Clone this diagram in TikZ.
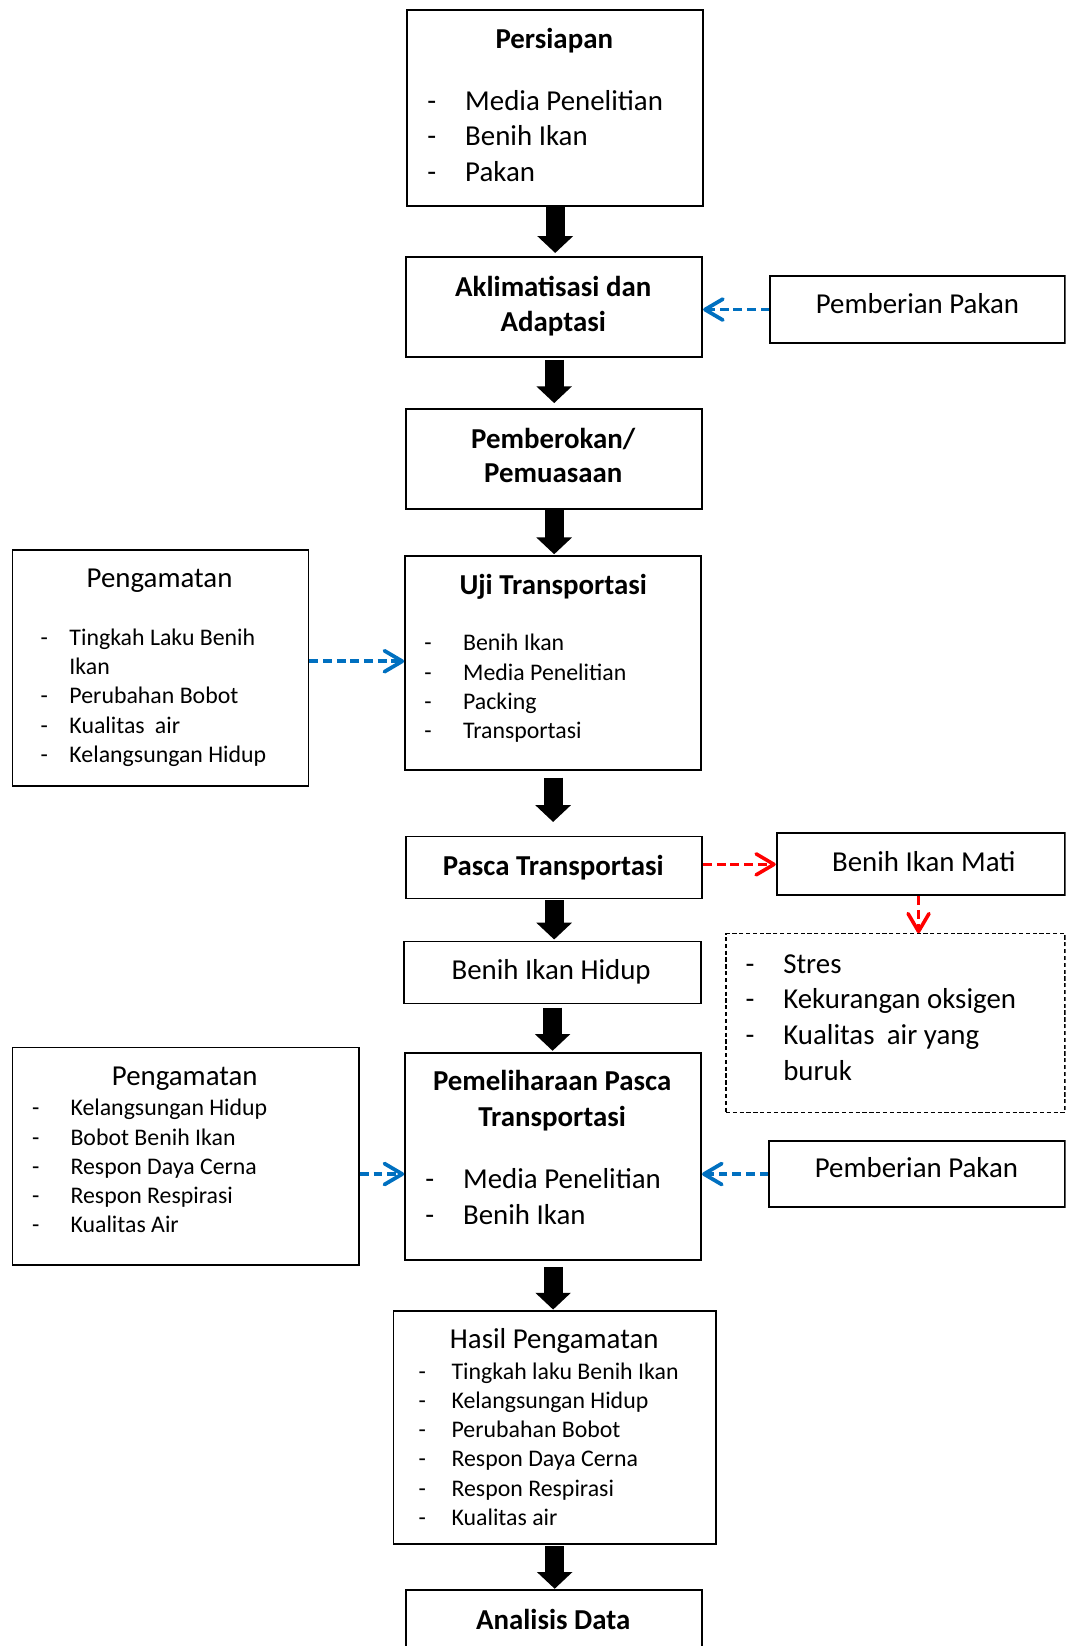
\documentclass[tikz,border=0pt]{standalone}
\usepackage{fontspec}
\setmainfont{Carlito}
\usetikzlibrary{arrows.meta,calc}
\definecolor{ablue}{RGB}{0,112,192}
\definecolor{ared}{RGB}{255,0,0}
\newcommand\dlist[2]{\begin{tabular}[t]{@{}p{#1pt}@{}l@{}}#2\end{tabular}}
\tikzset{
  box/.style={draw=black, line width=1.8pt, rectangle, inner sep=0pt, anchor=north west},
  dbox/.style={draw=black, line width=1.2pt, dash pattern=on 4pt off 2.5pt, rectangle, inner sep=0pt, anchor=north west},
  tL/.style={font=\fontsize{27.5}{33.8}\selectfont, inner sep=0pt, anchor=base},
  tLb/.style={font=\fontsize{27.5}{33.8}\selectfont\bfseries, inner sep=0pt, anchor=base},
  lL/.style={font=\fontsize{27.5}{34}\selectfont, inner sep=0pt, anchor=base west},
  lS/.style={font=\fontsize{22.7}{27.8}\selectfont, inner sep=0pt, anchor=base west},
  blk/.style={line width=18pt, -{Triangle[width=33pt,length=16pt]}},
  bdash/.style={ablue, line width=3.6pt, dash pattern=on 8.5pt off 4.5pt, -{Straight Barb[length=17pt,width=20pt,round]}},
  rdash/.style={ared, line width=3.4pt, dash pattern=on 8.5pt off 4.5pt, -{Straight Barb[length=17pt,width=20pt,round]}}
}
\begin{document}
\begin{tikzpicture}[x=1pt,y=-1pt]
\useasboundingbox (0,0) rectangle (1015,1568);
\clip (0,0) rectangle (1015,1568);

% boxes
\node[box, minimum width=282pt, minimum height=186pt] (persiapan) at (387,9) {};
\node[box, minimum width=282pt, minimum height=95pt] (aklim) at (386,244) {};
\node[box, minimum width=281pt, minimum height=64pt] (pakan1) at (733,262) {};
\node[box, minimum width=282pt, minimum height=95pt] (pemberokan) at (386,389) {};
\node[box, minimum width=282pt, minimum height=204pt] (uji) at (385,529) {};
\node[box, minimum width=282pt, minimum height=225pt] (peng1) at (11,523) {};
\node[box, minimum width=282pt, minimum height=59pt] (pasca) at (386,796) {};
\node[box, minimum width=275pt, minimum height=59pt] (mati) at (739,793) {};
\node[dbox, minimum width=323pt, minimum height=170pt] (sebab) at (691,889) {};
\node[box, minimum width=283pt, minimum height=59pt] (hidup) at (384,896) {};
\node[box, minimum width=282pt, minimum height=197pt] (pemel) at (385,1002) {};
\node[box, minimum width=330pt, minimum height=207pt] (peng2) at (11,997) {};
\node[box, minimum width=282pt, minimum height=63pt] (pakan2) at (732,1086) {};
\node[box, minimum width=307pt, minimum height=222pt] (hasil) at (374,1248) {};
\node[box, minimum width=282pt, minimum height=80pt] (analisis) at (386,1514) {};

% texts
\node[tLb] (persiapanT) at (528,46) {Persiapan};
\node[lL] (persiapanL) at (407,105) {\dlist{36}{- & Media Penelitian\\ - & Benih Ikan\\ - & Pakan}};

\node[tLb] (aklimT1) at (527,282) {Aklimatisasi dan};
\node[tLb] (aklimT2) at (527,316) {Adaptasi};

\node[tL] (pakan1T) at (874,299) {Pemberian Pakan};

\node[tLb] (pemberokanT1) at (527,427) {Pemberokan/};
\node[tLb] (pemberokanT2) at (527,460) {Pemuasaan};

\node[tLb] (ujiT) at (527,566) {Uji Transportasi};
\node[lS] (ujiL) at (404,620) {\dlist{37}{- & Benih Ikan\\ - & Media Penelitian\\ - & Packing\\ - & Transportasi}};

\node[tL] (peng1T) at (152,560) {Pengamatan};
\node[lS] (peng1L) at (38.5,615) {\dlist{27.5}{- & Tingkah Laku Benih\\ & Ikan\\ - & Perubahan Bobot\\ - & Kualitas\hspace{0.2em} air\\ - & Kelangsungan Hidup}};

\node[tLb] (pascaT) at (527,834) {Pasca Transportasi};
\node[tL] (matiT) at (880,830) {Benih Ikan Mati};

\node[lL] (sebabL) at (710,927) {\dlist{36}{- & Stres\\ - & Kekurangan oksigen\\ - & Kualitas\hspace{0.2em} air yang\\ & buruk}};

\node[tL] (hidupT) at (525,933) {Benih Ikan Hidup};

\node[tLb] (pemelT1) at (526,1039) {Pemeliharaan Pasca};
\node[tLb] (pemelT2) at (526,1073) {Transportasi};
\node[lL] (pemelL) at (405,1132) {\dlist{36}{- & Media Penelitian\\ - & Benih Ikan}};

\node[tL] (peng2T) at (176,1034) {Pengamatan};
\node[lS] (peng2L) at (30.5,1063) {\dlist{36.5}{- & Kelangsungan Hidup\\ - & Bobot Benih Ikan\\ - & Respon Daya Cerna\\ - & Respon Respirasi\\ - & Kualitas Air}};

\node[tL] (pakan2T) at (873,1122) {Pemberian Pakan};

\node[tL] (hasilT) at (528,1285) {Hasil Pengamatan};
\node[lS] (hasilL) at (398.5,1314) {\dlist{31.5}{- & Tingkah laku Benih Ikan\\ - & Kelangsungan Hidup\\ - & Perubahan Bobot\\ - & Respon Daya Cerna\\ - & Respon Respirasi\\ - & Kualitas air}};

\node[tLb] (analisisT) at (527,1552) {Analisis Data};

% black arrows
\draw[blk, shorten <=0.5pt, shorten >=3pt] (persiapan.south) -- (persiapan.south |- aklim.north);
\draw[blk, shorten <=2pt, shorten >=5pt] (aklim.south) -- (aklim.south |- pemberokan.north);
\draw[blk, shorten <=0.5pt, shorten >=1pt] (pemberokan.south) -- (pemberokan.south |- uji.north);
\draw[blk, shorten <=6pt, shorten >=13pt] (uji.south) -- (uji.south |- pasca.north);
\draw[blk, shorten <=1pt, shorten >=1pt] (pasca.south) -- (pasca.south |- hidup.north);
\draw[blk, shorten <=3pt, shorten >=1pt] (hidup.south) -- (hidup.south |- pemel.north);
\draw[blk, shorten <=6pt, shorten >=0.5pt] (pemel.south) -- (pemel.south |- hasil.north);
\draw[blk, shorten <=1pt, shorten >=0.5pt] (hasil.south) -- (hasil.south |- analisis.north);

% dashed arrows
\draw[bdash] (pakan1.west) -- (pakan1.west -| aklim.east);
\draw[bdash] ($(uji.west -| peng1.east)+(0,-2)$) -- ($(uji.west)+(0,-2)$);
\draw[rdash] (mati.west -| pasca.east) -- (mati.west);
\draw[rdash] (mati.south -| 875,0) -- (sebab.north -| 875,0);
\draw[bdash] (pakan2.west -| peng2.east) -- (pakan2.west -| pemel.west);
\draw[bdash] (pakan2.west) -- (pakan2.west -| pemel.east);
\end{tikzpicture}
\end{document}
